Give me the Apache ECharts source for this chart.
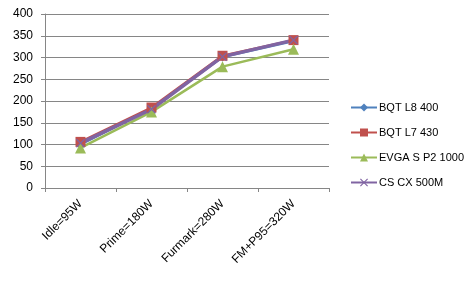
<!DOCTYPE html>
<html>
<head>
<meta charset="utf-8">
<script src="https://cdn.jsdelivr.net/npm/echarts@6/dist/echarts.min.js"></script>
<style>
	html, body { margin: 0; padding: 0; background: #fff; }
	#chart { width: 476px; height: 285px; }
</style>
</head>
<body>
<div id="chart"></div>
<script>
// 类别 / 数据
var categories = ['Idle=95W', 'Prime=180W', 'Furmark=280W', 'FM+P95=320W'];
var seriesNames = ['BQT L8 400', 'BQT L7 430', 'EVGA S P2 1000', 'CS CX 500M'];
var bqtL8 = [100, 182, 301, 338];
var bqtL7 = [106, 185, 304, 340];
var evga = [92, 175, 279, 319];
var csCx = [103, 181, 302, 340];
var yTicks = [0, 50, 100, 150, 200, 250, 300, 350, 400];

var colors = ['#4F81BD', '#C0504D', '#9BBB59', '#8064A2'];
// X 形标记
var crossPath = 'path://M0,1L1,0L5,4L9,0L10,1L6,5L10,9L9,10L5,6L1,10L0,9L4,5Z';

var chart = echarts.init(document.getElementById('chart'));
var font = 'Liberation Sans';

function makeSeries(name, data, symbol, size, width) {
	return {
		name: name,
		type: 'line',
		data: data,
		symbol: symbol,
		symbolSize: size,
		showAllSymbol: true,
		lineStyle: { width: width },
		animation: false
	};
}

var option = {
	color: colors,
	animation: false,
	textStyle: { fontFamily: font },
	grid: { left: 45, right: 147, top: 14, bottom: 97 },
	legend: {
		orient: 'vertical',
		left: 345,
		top: 97,
		itemGap: 14,
		itemWidth: 26,
		itemHeight: 10,
		textStyle: { fontSize: 11, color: '#000', fontFamily: font, padding: [0, 0, 0, -3] },
		data: seriesNames
	},
	xAxis: {
		type: 'category',
		data: categories,
		boundaryGap: true,
		axisLine: { lineStyle: { color: '#868686', width: 1 } },
		axisTick: { show: true, length: 4, lineStyle: { color: '#868686' } },
		axisLabel: { rotate: 45, fontSize: 12, color: '#000', fontFamily: font, margin: 14 }
	},
	yAxis: {
		type: 'value',
		min: yTicks[0],
		max: yTicks[yTicks.length - 1],
		interval: 50,
		axisLine: { show: true, lineStyle: { color: '#868686', width: 1 } },
		axisTick: { show: true, length: 4, lineStyle: { color: '#868686' } },
		axisLabel: { fontSize: 12, color: '#000', fontFamily: font, margin: 12 },
		splitLine: { lineStyle: { color: '#868686', width: 1 } }
	},
	series: [
		makeSeries(seriesNames[0], bqtL8, 'diamond', 9, 2.5),
		makeSeries(seriesNames[1], bqtL7, 'rect', 10, 2.5),
		makeSeries(seriesNames[2], evga, 'triangle', 11, 2.5),
		makeSeries(seriesNames[3], csCx, crossPath, 9, 3.5)
	]
};

chart.setOption(option);
</script>
</body>
</html>
